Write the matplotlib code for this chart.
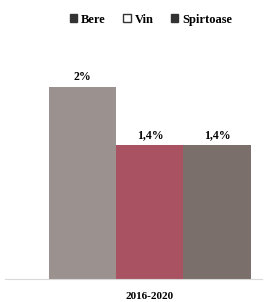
import numpy as np
import matplotlib.pyplot as plt
from matplotlib.patches import Patch

# data
period = '2016-2020'
categories = ['Bere', 'Vin', 'Spirtoase']
values = [2.0, 1.4, 1.4]
labels = ['2%', '1,4%', '1,4%']
colors = ['#9b918e', '#a85262', '#7b6f6c']

plt.rcParams['font.family'] = ['Liberation Serif', 'DejaVu Serif']

fig = plt.figure(figsize=(2.67, 3.02), dpi=100)
ax = fig.add_axes([0.019, 0.076, 0.962, 0.758])

x = np.arange(len(categories)) - 1
bars = ax.bar(x, values, width=1.0, color=colors, edgecolor='none')
for b, lab in zip(bars, labels):
    ax.text(b.get_x() + b.get_width() / 2, b.get_height() + 0.04, lab,
            ha='center', va='bottom', fontsize=8.5, fontweight='bold')

ax.set_xlim(-2.16, 1.67)
ax.set_ylim(0, 2.385)
ax.set_yticks([])
ax.set_xticks([0])
ax.set_xticklabels([period], fontsize=8, fontweight='bold')
ax.tick_params(axis='x', length=0, pad=9)
for s in ['top', 'left', 'right']:
    ax.spines[s].set_visible(False)
ax.spines['bottom'].set_color('#d9d9d9')
ax.spines['bottom'].set_linewidth(0.8)

handles = [Patch(facecolor='#333333', edgecolor='#333333'),
           Patch(facecolor='white', edgecolor='#333333'),
           Patch(facecolor='#333333', edgecolor='#333333')]
fig.legend(handles, categories, loc='center', bbox_to_anchor=(0.565, 0.935),
           ncol=3, frameon=False, handlelength=0.6, handleheight=0.6,
           handletextpad=0.3, columnspacing=1.4,
           prop={'size': 9, 'weight': 'bold'})

fig.savefig('out.png', dpi=100)
